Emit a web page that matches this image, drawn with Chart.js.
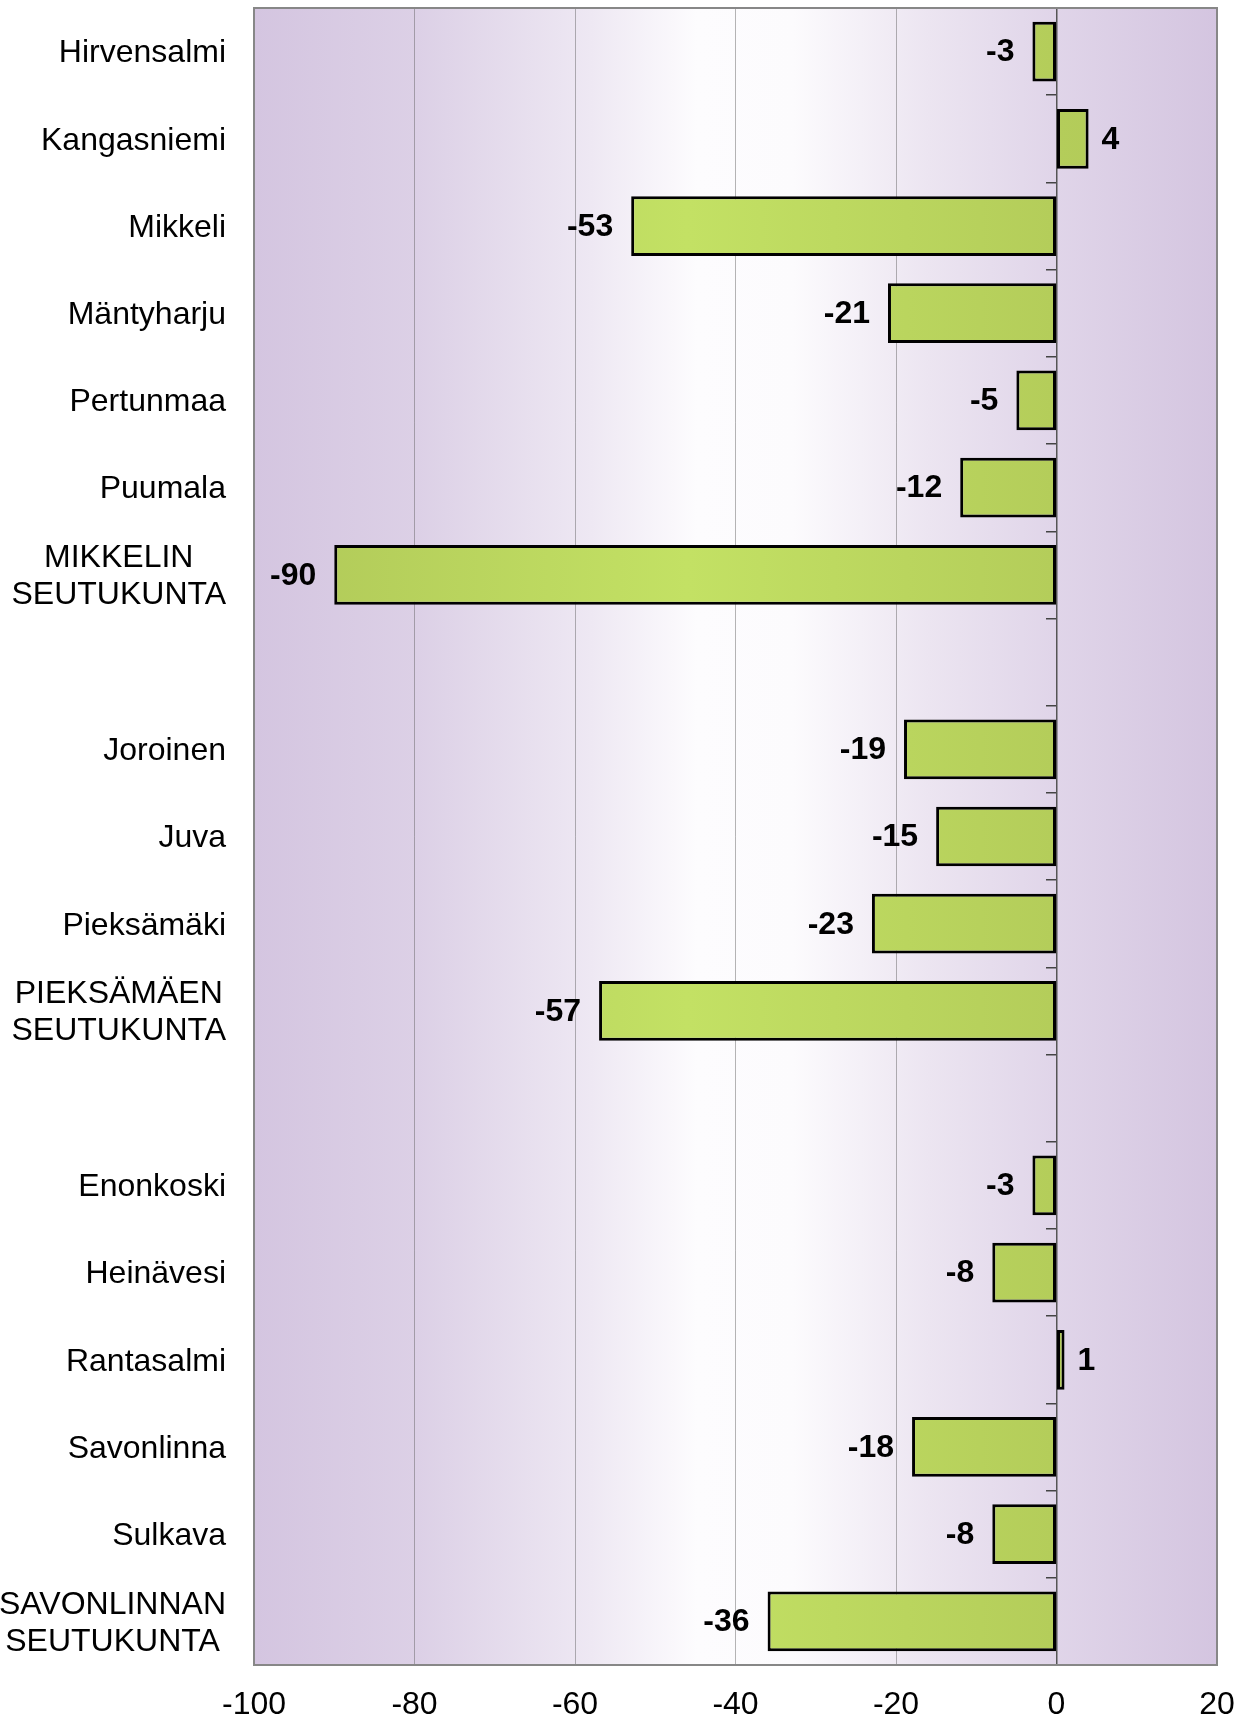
<!DOCTYPE html>
<html>
<head>
<meta charset="utf-8">
<title>Muutos</title>
<script src="https://cdn.jsdelivr.net/npm/chart.js"></script>
<style>
  html, body { margin:0; padding:0; background:#fff; }
  canvas { display:block; }
</style>
</head>
<body>
<canvas id="chart" width="1247" height="1717"></canvas>
<script>
// kunnat ja seutukunnat (tyhjä rivi = väli)
const categories = [
  "Hirvensalmi", "Kangasniemi", "Mikkeli", "Mäntyharju", "Pertunmaa", "Puumala",
  ["MIKKELIN", "SEUTUKUNTA"],
  "",
  "Joroinen", "Juva", "Pieksämäki",
  ["PIEKSÄMÄEN", "SEUTUKUNTA"],
  "",
  "Enonkoski", "Heinävesi", "Rantasalmi", "Savonlinna", "Sulkava",
  ["SAVONLINNAN", "SEUTUKUNTA"]
];
const values = [-3, 4, -53, -21, -5, -12, -90, null, -19, -15, -23, -57, null, -3, -8, 1, -18, -8, -36];
const xTicks = [-100, -80, -60, -40, -20, 0, 20];
const gridAt = [-80, -60, -40, -20];

const FONT = "'Liberation Sans', Arial, sans-serif";

// taustan liukuväri
const bgPlugin = {
  id: "bg",
  beforeDraw(chart) {
    const { ctx, chartArea: a } = chart;
    const g = ctx.createLinearGradient(a.left, 0, a.right, 0);
    g.addColorStop(0, "#d4c5e0");
    g.addColorStop(0.17, "#dcd0e6");
    g.addColorStop(0.35, "#eee8f3");
    g.addColorStop(0.46, "#fdfcfe");
    g.addColorStop(0.56, "#fcfbfd");
    g.addColorStop(0.7, "#ece5f1");
    g.addColorStop(0.83, "#e0d5e9");
    g.addColorStop(1, "#d4c5e0");
    ctx.save();
    ctx.fillStyle = g;
    ctx.fillRect(a.left, a.top, a.right - a.left, a.bottom - a.top);
    ctx.restore();
  },
  afterDraw(chart) {
    const { ctx, chartArea: a } = chart;
    ctx.save();
    ctx.strokeStyle = "#878787";
    ctx.lineWidth = 2;
    ctx.strokeRect(a.left, a.top, a.right - a.left, a.bottom - a.top);
    ctx.restore();
  }
};

// kategorianimet vasemmalle, monirivinen keskitetty lohkona
const catLabels = {
  id: "catLabels",
  afterDraw(chart) {
    const { ctx } = chart;
    const y = chart.scales.y;
    const right = chart.chartArea.left - 28;
    ctx.save();
    ctx.font = "32px " + FONT;
    ctx.fillStyle = "#000";
    ctx.textBaseline = "middle";
    ctx.textAlign = "center";
    categories.forEach((c, i) => {
      const lines = Array.isArray(c) ? c : [c];
      if (!lines[0]) return;
      const w = Math.max(...lines.map(l => ctx.measureText(l).width));
      const cx = right - w / 2;
      const lh = 37;
      const y0 = y.getPixelForValue(i) - (lines.length - 1) * lh / 2 + 2;
      lines.forEach((l, k) => ctx.fillText(l, cx, y0 + k * lh));
    });
    ctx.restore();
  }
};

// arvot palkkien päähän
const valueLabels = {
  id: "valueLabels",
  afterDatasetsDraw(chart) {
    const { ctx } = chart;
    const meta = chart.getDatasetMeta(0);
    ctx.save();
    ctx.font = "bold 32px " + FONT;
    ctx.fillStyle = "#000";
    ctx.textBaseline = "middle";
    meta.data.forEach((bar, i) => {
      const v = values[i];
      if (v === null) return;
      if (v < 0) {
        ctx.textAlign = "right";
        ctx.fillText(String(v), bar.x - 18, bar.y + 1);
      } else {
        ctx.textAlign = "left";
        ctx.fillText(String(v), bar.x + 13, bar.y + 1);
      }
    });
    ctx.restore();
  }
};

function barFill(context) {
  const chart = context.chart;
  const a = chart.chartArea;
  if (!a) return "#bfdb62";
  const g = chart.ctx.createLinearGradient(a.left, 0, a.right, 0);
  g.addColorStop(0, "#b0c858");
  g.addColorStop(0.45, "#c3e164");
  g.addColorStop(0.83, "#b4cd5a");
  g.addColorStop(1, "#b0c858");
  return g;
}

const chart = new Chart(document.getElementById("chart"), {
  type: "bar",
  data: {
    labels: categories,
    datasets: [{
      data: values,
      backgroundColor: barFill,
      borderColor: "#000",
      borderWidth: 3,
      borderSkipped: false,
      categoryPercentage: 1,
      barPercentage: 0.685
    }]
  },
  options: {
    indexAxis: "y",
    responsive: false,
    animation: false,
    layout: { padding: { top: 8, right: 30, left: 0, bottom: 0 } },
    plugins: { legend: { display: false }, tooltip: { enabled: false } },
    scales: {
      x: {
        min: -100,
        max: 20,
        z: 1,
        afterBuildTicks: s => { s.ticks = xTicks.map(v => ({ value: v })); },
        afterFit: s => { s.height = 52; },
        ticks: { color: "#000", font: { family: FONT, size: 32 }, padding: 0, maxRotation: 0 },
        grid: {
          drawTicks: true,
          tickLength: 21,
          tickColor: "rgba(0,0,0,0)",
          color: c => gridAt.includes(c.tick && c.tick.value) ? "rgba(90,90,90,0.45)" : "rgba(0,0,0,0)",
          lineWidth: 1
        },
        border: { display: false }
      },
      y: {
        type: "category",
        position: "left",
        afterFit: s => { s.width = 254; },
        ticks: { display: false },
        grid: { display: false },
        border: { display: false }
      },
      y0: {
        type: "category",
        axis: "y",
        position: { x: 0 },
        offset: true,
        ticks: { display: false },
        grid: { offset: true, drawOnChartArea: false, tickLength: 10, color: "#444", lineWidth: 1.5 },
        border: { display: true, color: "#555", width: 1.5 }
      }
    }
  },
  plugins: [bgPlugin, catLabels, valueLabels]
});
</script>
</body>
</html>
